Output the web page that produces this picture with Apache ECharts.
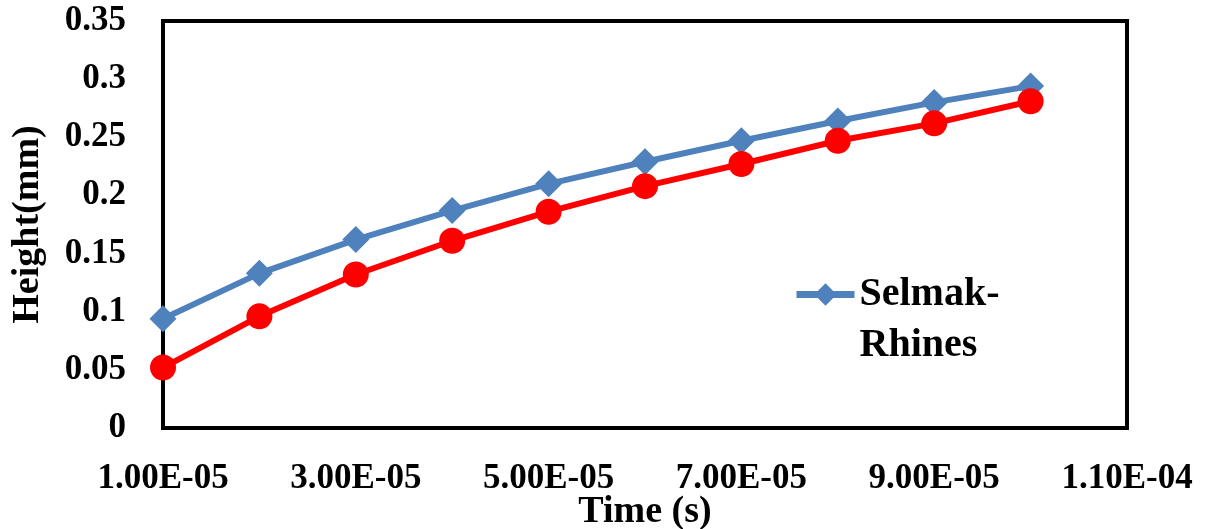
<!DOCTYPE html>
<html>
<head>
<meta charset="utf-8">
<script src="https://cdn.jsdelivr.net/npm/echarts@6/dist/echarts.min.js"></script>
<style>
  html, body { margin: 0; padding: 0; background: #fff; }
  #chart_height { width: 1209px; height: 529px; }
</style>
</head>
<body>
<div id="chart_height"></div>
<script>
// time (s)
const times = [1e-5, 2e-5, 3e-5, 4e-5, 5e-5, 6e-5, 7e-5, 8e-5, 9e-5, 1e-4];
// Selmak-Rhines height (mm)
const selmakRhines = [0.094, 0.133, 0.162, 0.187, 0.210, 0.229, 0.247, 0.264, 0.280, 0.294];
// second (red) curve, not in legend
const redSeries = [0.052, 0.096, 0.132, 0.161, 0.186, 0.208, 0.227, 0.247, 0.262, 0.281];

const fontFamily = '"Liberation Serif", "DejaVu Serif", serif';

function fmtExp (v) {
  let s = Number(v).toExponential(2).toUpperCase();
  // 1.00E-5 -> 1.00E-05
  return s.replace(/E([+-])(\d)$/, 'E$10$2');
}

const myChart = echarts.init(document.getElementById('chart_height'));
const option = {
  animation: false,
  grid: {
    left: 163,
    right: 82,
    top: 21,
    bottom: 101,
    outerBoundsMode: 'none',
    containLabel: false,
    show: true,
    borderColor: '#000',
    borderWidth: 4,
    backgroundColor: '#fff'
  },
  legend: {
    data: ['Selmak-Rhines'],
    left: 788,
    top: 213,
    itemWidth: 58,
    itemHeight: 28,
    itemGap: 0,
    lineStyle: { width: 7 },
    formatter: () => ' \nSelmak-\nRhines',
    textStyle: {
      fontFamily: fontFamily,
      fontWeight: 'bold',
      fontSize: 40,
      lineHeight: 51,
      color: '#000'
    }
  },
  xAxis: {
    type: 'value',
    min: 1e-5,
    max: 1.1e-4,
    interval: 2e-5,
    name: 'Time (s)',
    nameLocation: 'middle',
    nameGap: 65,
    nameMoveOverlap: false,
    nameTextStyle: {
      fontFamily: fontFamily,
      fontWeight: 'bold',
      fontSize: 38,
      color: '#000'
    },
    axisLine: { show: false },
    axisTick: { show: false },
    splitLine: { show: false },
    axisLabel: {
      margin: 33,
      formatter: fmtExp,
      fontFamily: fontFamily,
      fontWeight: 'bold',
      fontSize: 35,
      color: '#000'
    }
  },
  yAxis: {
    type: 'value',
    min: 0,
    max: 0.35,
    interval: 0.05,
    name: 'Height(mm)',
    nameLocation: 'middle',
    nameGap: 116,
    nameMoveOverlap: false,
    nameTextStyle: {
      fontFamily: fontFamily,
      fontWeight: 'bold',
      fontSize: 38,
      color: '#000'
    },
    axisLine: { show: false },
    axisTick: { show: false },
    splitLine: { show: false },
    axisLabel: {
      margin: 37,
      fontFamily: fontFamily,
      fontWeight: 'bold',
      fontSize: 35,
      color: '#000'
    }
  },
  series: [
    {
      name: 'Selmak-Rhines',
      type: 'line',
      data: times.map((t, i) => [t, selmakRhines[i]]),
      color: '#4F81BD',
      symbol: 'diamond',
      symbolSize: 27,
      lineStyle: { width: 6, color: '#4F81BD' },
      itemStyle: { color: '#4F81BD' }
    },
    {
      name: 'red',
      type: 'line',
      data: times.map((t, i) => [t, redSeries[i]]),
      color: '#FF0000',
      symbol: 'circle',
      symbolSize: 26,
      lineStyle: { width: 6, color: '#FF0000' },
      itemStyle: { color: '#FF0000' }
    }
  ]
};
myChart.setOption(option);
</script>
</body>
</html>
